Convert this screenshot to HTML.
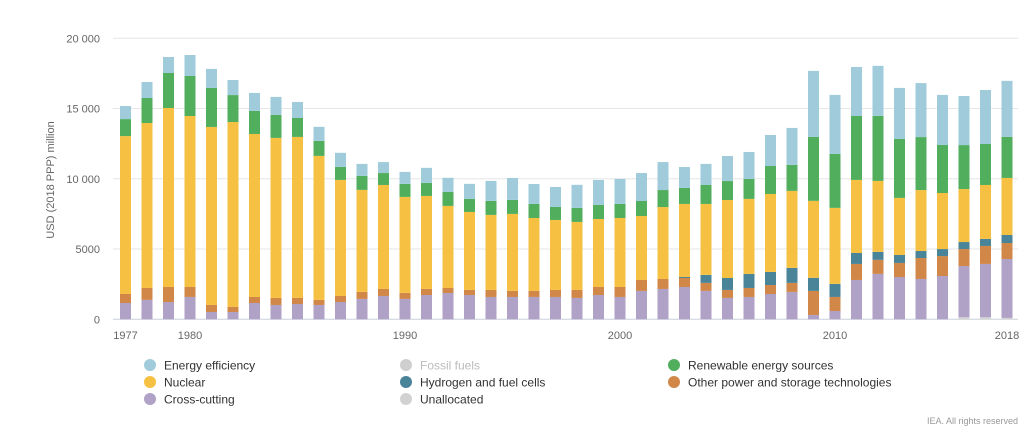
<!DOCTYPE html>
<html><head><meta charset="utf-8"><style>
body{margin:0;background:#fff;font-family:"Liberation Sans",sans-serif;}
svg text{font-family:"Liberation Sans",sans-serif;}
</style></head><body>
<svg id="chart" width="1035" height="442" xmlns="http://www.w3.org/2000/svg">
<g id="grid"></g>
<g id="bars"></g>
<g id="axes"></g>
<text x="54" y="180" transform="rotate(-90 54 180)" text-anchor="middle" font-size="11" fill="#666">USD (2018 PPP) million</text>
<g id="legend"></g>
<text x="1018" y="424" text-anchor="end" font-size="9" fill="#999">IEA. All rights reserved</text>
</svg>
<script>
const years=[];for(let y=1977;y<=2018;y++)years.push(y);
const unallocated=[0,0,0,0,0,0,0,0,0,0,0,0,0,0,0,0,0,0,0,0,0,0,0,0,0,0,0,0,0,0,0,0,0,0,0,0,0,0,0,150,150,100];
const crossCutting=[1160,1380,1230,1590,520,520,1160,1020,1090,1020,1230,1450,1660,1450,1730,1870,1730,1590,1590,1590,1590,1520,1730,1590,2020,2160,2300,2020,1520,1590,1800,1950,310,590,2800,3230,3010,2870,3080,3640,3790,4190];
const otherPower=[640,850,1070,710,500,360,430,500,430,360,430,500,500,430,430,360,360,500,430,430,500,570,570,710,780,710,640,570,570,640,640,640,1710,1000,1140,1000,1000,1490,1420,1210,1280,1140];
const hydrogen=[0,0,0,0,0,0,0,0,0,0,0,0,0,0,0,0,0,0,0,0,0,0,0,0,0,0,70,570,850,1000,930,1070,930,930,780,570,570,500,500,500,500,570];
const nuclear=[11240,11740,12740,12170,12670,13160,11600,11390,11460,10250,8260,7260,7400,6830,6620,5840,5550,5340,5480,5190,4980,4840,4840,4910,4550,5120,5200,5050,5550,5340,5550,5480,5480,5410,5200,5050,4060,4340,3990,3770,3840,4060];
const renewables=[1210,1780,2490,2850,2780,1920,1640,1640,1350,1070,930,1000,850,930,930,1000,930,1000,1000,1000,930,1000,1000,1000,1070,1210,1140,1350,1350,1420,1990,1850,4550,3840,4550,4630,4200,3770,3420,3130,2920,2920];
const efficiency=[930,1140,1140,1490,1350,1070,1280,1280,1140,1000,1000,850,780,850,1070,1000,1070,1420,1560,1420,1420,1640,1780,1780,1990,1990,1490,1500,1780,1920,2210,2630,4700,4200,3490,3560,3630,3840,3560,3490,3840,3990];
const yTicks=[0,5000,10000,15000,20000];
const yTickLabels=["0","5000","10 000","15 000","20 000"];
const xLabelYears=[1977,1980,1990,2000,2010,2018];
const NS="http://www.w3.org/2000/svg";
const y0=319.3,yTop=38.3,maxV=20000;
const yS=v=>y0-(v/maxV)*(y0-yTop);
const x0=125.5,step=21.5,bw=11;
const xS=yr=>x0+(yr-1977)*step;
const series=[
 {name:"unallocated",vals:unallocated,color:"#d2d2d2"},
 {name:"cross-cutting",vals:crossCutting,color:"#b0a1c6"},
 {name:"other-power-storage",vals:otherPower,color:"#d08748"},
 {name:"hydrogen-fuel-cells",vals:hydrogen,color:"#4a8499"},
 {name:"nuclear",vals:nuclear,color:"#f6c143"},
 {name:"renewables",vals:renewables,color:"#51ae5d"},
 {name:"energy-efficiency",vals:efficiency,color:"#9fcbdb"}];
function el(t,a,p){const e=document.createElementNS(NS,t);for(const k in a)e.setAttribute(k,a[k]);p.appendChild(e);return e;}
const grid=document.getElementById('grid'),axes=document.getElementById('axes'),bars=document.getElementById('bars');
yTicks.forEach((t,i)=>{
 const l=el('line',{x1:113,x2:1018,y1:yS(t),y2:yS(t),stroke:i===0?'#ccd0dc':'#e6e6e6','stroke-width':1},grid);
 
 
 const tx=el('text',{x:100,y:yS(t)+4,'text-anchor':'end','font-size':11,fill:'#666'},axes);
 tx.textContent=yTickLabels[i];
 
 
});
xLabelYears.forEach(yr=>{
 const tx=el('text',{x:xS(yr),y:339,'text-anchor':'middle','font-size':11,fill:'#666'},axes);
 tx.textContent=yr;
 
 
});
years.forEach((yr,i)=>{
 let acc=0;
 series.forEach(s=>{
  const v=s.vals[i];if(!v)return;
  const r=el('rect',{x:xS(yr)-bw/2,y:yS(acc+v),width:bw,height:yS(acc)-yS(acc+v),fill:s.color},bars);
  
  
  acc+=v;
 });
});
const legendItems=[
 ["Energy efficiency","#9fcbdb",150,365,"#333"],["Nuclear","#f6c143",150,382,"#333"],["Cross-cutting","#b0a1c6",150,399,"#333"],
 ["Fossil fuels","#cfcfcf",406,365,"#bbb"],["Hydrogen and fuel cells","#4a8499",406,382,"#333"],["Unallocated","#d2d2d2",406,399,"#333"],
 ["Renewable energy sources","#51ae5d",674,365,"#333"],["Other power and storage technologies","#d08748",674,382,"#333"]];
const lg=document.getElementById('legend');
legendItems.forEach(it=>{
 const g=el('g',{},lg);
 
 
 el('circle',{cx:it[2],cy:it[3],r:6,fill:it[1]},g);
 const t=el('text',{x:it[2]+14,y:it[3]+4.5,'font-size':12,fill:it[4]},g);
 t.textContent=it[0];
});
</script>
</body></html>
